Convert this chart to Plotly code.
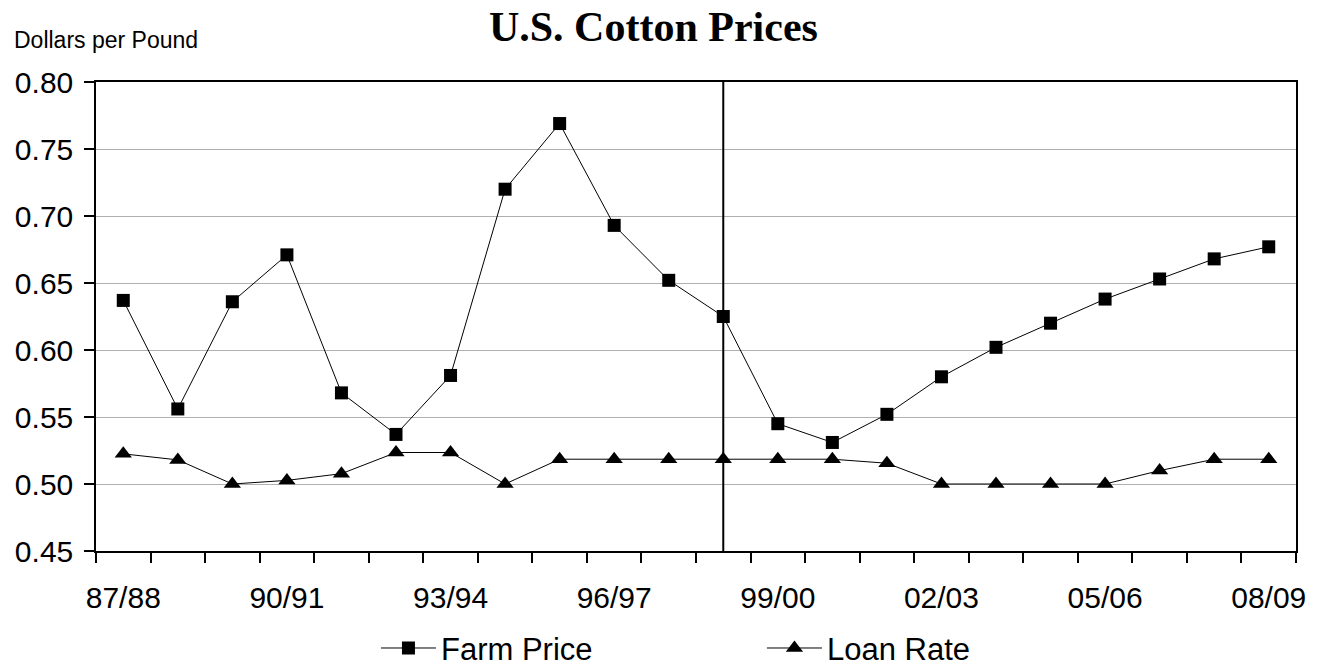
import plotly.graph_objects as go

seasons = ["87/88", "88/89", "89/90", "90/91", "91/92", "92/93", "93/94", "94/95",
           "95/96", "96/97", "97/98", "98/99", "99/00", "00/01", "01/02", "02/03",
           "03/04", "04/05", "05/06", "06/07", "07/08", "08/09"]
farm_price = [0.637, 0.556, 0.636, 0.671, 0.568, 0.537, 0.581, 0.720,
              0.769, 0.693, 0.652, 0.625, 0.545, 0.531, 0.552, 0.580,
              0.602, 0.620, 0.638, 0.653, 0.668, 0.677]
loan_rate = [0.5225, 0.518, 0.500, 0.5027, 0.5077, 0.5235, 0.5235, 0.500,
             0.5185, 0.5185, 0.5185, 0.5185, 0.5185, 0.5185, 0.5155, 0.500,
             0.500, 0.500, 0.500, 0.510, 0.5185, 0.5185]
label_every = 3
divider_season = "98/99"
y_ticks = [0.45, 0.50, 0.55, 0.60, 0.65, 0.70, 0.75, 0.80]

xi = list(range(len(seasons)))
font_family = "Liberation Sans, Arial, sans-serif"

fig = go.Figure()
fig.add_trace(go.Scatter(
    x=xi, y=farm_price, name="Farm Price", mode="lines+markers",
    line=dict(color="black", width=1),
    marker=dict(symbol="square", size=13, color="black"),
))
fig.add_trace(go.Scatter(
    x=xi, y=loan_rate, name="Loan Rate", mode="lines+markers",
    line=dict(color="black", width=1),
    marker=dict(symbol="triangle-up", size=15, color="black"),
))

dx = seasons.index(divider_season)
fig.add_shape(type="line", xref="x", yref="paper", x0=dx, x1=dx, y0=0, y1=1,
              line=dict(color="black", width=2))

fig.update_layout(
    width=1320, height=669,
    margin=dict(l=96, r=24, t=82, b=118, autoexpand=False),
    paper_bgcolor="white", plot_bgcolor="white",
    font=dict(family=font_family, color="black", size=30),
    title=dict(text="<b>U.S. Cotton Prices</b>", x=0.495, xanchor="center",
               y=0.961, yanchor="middle", yref="container",
               font=dict(family="Liberation Serif, Times New Roman, serif", size=42, color="black")),
    showlegend=True,
    legend=dict(orientation="h", x=0.2333, xanchor="left", y=-0.150, yanchor="top",
                font=dict(size=31, family=font_family), itemwidth=55,
                entrywidth=316, bgcolor="rgba(0,0,0,0)", tracegroupgap=0),
    annotations=[dict(text="Dollars per Pound", xref="paper", yref="paper",
                      x=-0.07, y=1.09, xanchor="left", yanchor="middle",
                      showarrow=False, font=dict(size=23, family=font_family))],
)

boundaries = [i - 0.5 for i in range(len(seasons) + 1)]
fig.update_xaxes(
    range=[-0.5, len(seasons) - 0.5], automargin=False,
    tickmode="array", tickvals=xi[::label_every], ticktext=seasons[::label_every],
    ticks="outside", ticklen=10, tickcolor="rgba(0,0,0,0)", ticklabelstandoff=9,
    showgrid=False, zeroline=False,
    showline=True, linecolor="black", linewidth=1.5, mirror=True,
    minor=dict(tickmode="array", tickvals=boundaries, ticks="outside", ticklen=10,
               tickcolor="black", tickwidth=1.5, showgrid=False),
    tickfont=dict(size=30),
)
fig.update_yaxes(
    range=[0.45, 0.80], automargin=False, tickmode="array", tickvals=y_ticks,
    tickformat=".2f", ticks="outside", ticklen=10, tickcolor="black", tickwidth=1.5,
    ticklabelstandoff=5,
    showgrid=True, gridcolor="#b0b0b0", gridwidth=1, zeroline=False,
    showline=True, linecolor="black", linewidth=1.5, mirror=True,
    tickfont=dict(size=30),
)

fig.write_html("out.html", config={"displayModeBar": False},
               post_script="document.body.style.margin='0';")
